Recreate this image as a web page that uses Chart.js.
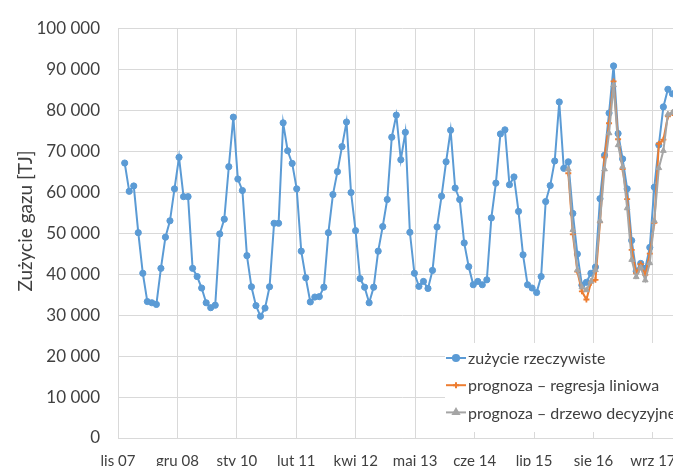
<!DOCTYPE html>
<html lang="pl">
<head>
<meta charset="utf-8">
<script src="https://cdn.jsdelivr.net/npm/chart.js@4.4.1/dist/chart.umd.min.js"></script>
<style>
  html, body { margin: 0; padding: 0; background: #fff; overflow: hidden; }
  #wrap { width: 700px; height: 480px; }
</style>
</head>
<body>
<div id="wrap"><canvas id="chart" width="700" height="480"></canvas></div>
<script>
// zużycie gazu w kolejnych miesiącach [TJ], indeks 0 = pierwszy miesiąc serii
const actual = [
  67100, 60200, 61500, 50100, 40200, 33300, 33000, 32600, 41400, 49000, 53000, 60800,
  68500, 58900, 58900, 41400, 39400, 36600, 33000, 31800, 32400, 49800, 53400, 66200,
  78300, 63200, 60400, 44500, 36900, 32300, 29700, 31700, 36900, 52400, 52400, 76900,
  70100, 67000, 60800, 45600, 39100, 33200, 34400, 34500, 36800, 50100, 59400, 65000,
  71100, 77100, 59900, 50600, 38900, 36800, 33000, 36800, 45600, 51600, 58200, 73400,
  78800, 67900, 74600, 50200, 40200, 37000, 38200, 36500, 40900, 51500, 59000, 67400,
  75100, 61000, 58200, 47600, 41800, 37400, 38200, 37400, 38600, 53700, 62200, 74200,
  75200, 61800, 63700, 55300, 44700, 37400, 36600, 35500, 39400, 57700, 61600, 67600,
  82000, 65800, 67400, 54800, 44900, 37300, 38000, 40200, 41700, 58400, 69000, 79300,
  90800, 74300, 68100, 60800, 48200, 40700, 42600, 41400, 46500, 61200, 71500, 80800,
  85100, 84000
];

// prognozy zaczynają się od 99. miesiąca serii
const forecastStart = 98;
const regression = [
  64600, 49700, 40600, 35800, 33800, 37900, 38600, 52600, 68500, 76800, 87000, 72900,
  65600, 58300, 45900, 40200, 42400, 39800, 45000, 52500, 71800, 72800, 78500, 79300
];
const tree = [
  65600, 50800, 41000, 36800, 36100, 38200, 41000, 53000, 65600, 74400, 86100, 71500,
  66200, 56100, 43500, 39300, 41600, 38500, 42700, 53000, 65900, 70100, 79000, 79400
];

// etykiety osi X i ich położenie (w miesiącach od pierwszego punktu)
const tickLabels = ['lis 07', 'gru 08', 'sty 10', 'lut 11', 'kwi 12', 'maj 13', 'cze 14', 'lip 15', 'sie 16', 'wrz 17'];
const tickPos = [-1.48, 11.65, 24.78, 37.91, 51.04, 64.17, 77.3, 90.43, 103.56, 116.69];

const seriesNames = ['zużycie rzeczywiste', 'prognoza – regresja liniowa', 'prognoza – drzewo decyzyjne'];
const yTitle = 'Zużycie gazu [TJ]';

const FONT = 'Lato, "Open Sans", sans-serif';
const TEXT = '#404040';
const GRID = '#d9d9d9';

const fmt = v => String(v).replace(/\B(?=(\d{3})+(?!\d))/g, ' ');

// legenda w obszarze wykresu + tytuł osi Y
const extras = {
  id: 'extras',
  afterDraw(chart) {
    const ctx = chart.ctx;
    ctx.save();
    ctx.fillStyle = '#fff';
    ctx.fillRect(445, 343, 260, 89);
    ctx.font = '16px ' + FONT;
    ctx.textBaseline = 'middle';
    ctx.textAlign = 'left';
    chart.data.datasets.forEach((ds, i) => {
      const y = 358 + i * 27.2;
      ctx.strokeStyle = ds.borderColor;
      ctx.fillStyle = ds.borderColor;
      ctx.lineWidth = 2;
      ctx.beginPath();
      ctx.moveTo(446, y);
      ctx.lineTo(466, y);
      ctx.stroke();
      Chart.helpers.drawPoint(ctx, {
        pointStyle: ds.pointStyle, radius: ds.pointRadius,
        borderWidth: ds.pointBorderWidth || 1, rotation: 0
      }, 456, y);
      ctx.fillStyle = TEXT;
      ctx.fillText(ds.label, 468, y + 1);
    });

    ctx.translate(26, 221);
    ctx.rotate(-Math.PI / 2);
    ctx.textAlign = 'center';
    ctx.font = '19px ' + FONT;
    ctx.fillStyle = TEXT;
    ctx.fillText(yTitle, 0, 0);
    ctx.restore();
  }
};

new Chart(document.getElementById('chart'), {
  type: 'line',
  data: {
    datasets: [
      {
        label: seriesNames[0],
        data: actual.map((v, i) => ({ x: i, y: v })),
        borderColor: '#5b9bd5',
        backgroundColor: '#5b9bd5',
        borderWidth: 2,
        pointStyle: 'circle',
        pointRadius: 3.1,
        pointBorderWidth: 1,
        order: 3
      },
      {
        label: seriesNames[1],
        data: regression.map((v, i) => ({ x: forecastStart + i, y: v })),
        borderColor: '#ed7d31',
        backgroundColor: '#ed7d31',
        borderWidth: 2,
        pointStyle: 'cross',
        pointRadius: 3,
        pointBorderWidth: 1.8,
        order: 2
      },
      {
        label: seriesNames[2],
        data: tree.map((v, i) => ({ x: forecastStart + i, y: v })),
        borderColor: '#a5a5a5',
        backgroundColor: '#a5a5a5',
        borderWidth: 2,
        pointStyle: 'triangle',
        pointRadius: 3.3,
        pointBorderWidth: 1,
        order: 1
      }
    ]
  },
  options: {
    responsive: false,
    animation: false,
    layout: { padding: { top: 20, right: 14, left: 0, bottom: 0 } },
    plugins: {
      legend: { display: false },
      tooltip: { enabled: false }
    },
    scales: {
      x: {
        type: 'linear',
        bounds: 'data',
        min: -1.48,
        max: 124,
        afterBuildTicks: s => { s.ticks = tickPos.map(v => ({ value: v })); },
        afterFit: s => { s.height = 42; },
        ticks: {
          autoSkip: false,
          maxRotation: 0,
          padding: 14,
          color: TEXT,
          font: { family: FONT, size: 15 },
          callback: (v, i) => tickLabels[i]
        },
        grid: { color: GRID, drawTicks: false },
        border: { color: GRID }
      },
      y: {
        min: 0,
        max: 100000,
        afterFit: s => { s.width = 118; },
        ticks: {
          stepSize: 10000,
          padding: 18,
          color: TEXT,
          font: { family: FONT, size: 17 },
          callback: v => fmt(v)
        },
        grid: { color: GRID, drawTicks: false },
        border: { color: GRID }
      }
    }
  },
  plugins: [extras]
});
</script>
</body>
</html>
